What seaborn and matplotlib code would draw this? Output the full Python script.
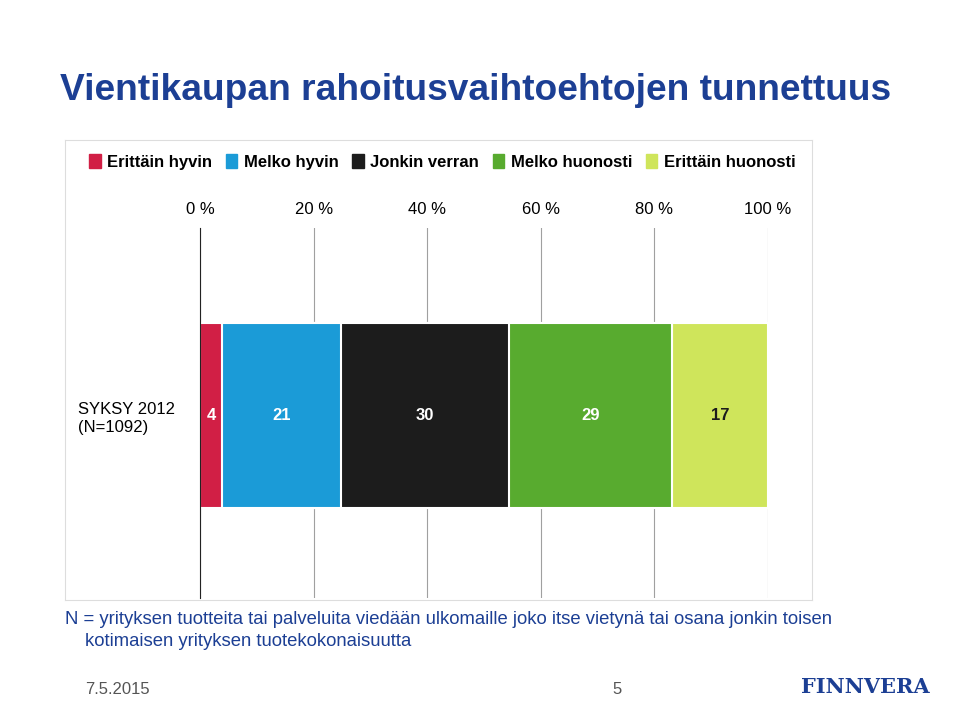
import matplotlib.pyplot as plt
import matplotlib.patches as mpatches
import seaborn as sns
import pandas as pd

categories = ["Erittäin hyvin", "Melko hyvin", "Jonkin verran", "Melko huonosti", "Erittäin huonosti"]
values = [4, 21, 30, 29, 17]
colors = ["#d11f45", "#1b9bd7", "#1c1c1c", "#58ab2f", "#cfe55b"]
row_label = "SYKSY 2012\n(N=1092)"
ticks = [0, 20, 40, 60, 80, 100]

plt.rcParams["font.family"] = "Liberation Sans"

# scale to 100 % (values sum to 101)
total = sum(values)
shares = [v / total * 100 for v in values]
cum = pd.Series(shares).cumsum().tolist()

fig = plt.figure(figsize=(9.6, 7.02), dpi=100)
fig.patch.set_facecolor("white")

# white chart panel
bg = fig.add_axes([65 / 960, 1 - 600 / 702, 747 / 960, 460 / 702], zorder=-1)
bg.set_xticks([])
bg.set_yticks([])
for sp in bg.spines.values():
    sp.set_color("#dddddd")

ax = fig.add_axes([200 / 960, 1 - 598 / 702, 568 / 960, 370 / 702])
ax.set_facecolor("none")

# draw stacked bar back to front
for i in reversed(range(len(categories))):
    df = pd.DataFrame({"row": [row_label], "value": [cum[i]]})
    sns.barplot(data=df, x="value", y="row", color=colors[i], width=1.0,
                orient="h", ax=ax, saturation=1, edgecolor="white", linewidth=1.5)

starts = [0] + cum[:-1]
for s, c, v in zip(starts, cum, values):
    ax.text((s + c) / 2, 0, str(v), ha="center", va="center", fontsize=12,
            fontweight="bold", color="white" if v != 17 else "#1c1c1c")

ax.set_xlim(0, 100)
ax.set_ylim(0.984, -1.016)
ax.set_xticks(ticks)
ax.set_xticklabels([f"{t} %" for t in ticks], fontsize=12)
ax.xaxis.tick_top()
ax.tick_params(axis="x", length=0, pad=8)
ax.set_yticks([0])
ax.set_yticklabels([row_label], ha="left", fontsize=12)
ax.tick_params(axis="y", length=0, pad=88)
ax.set_xlabel("")
ax.set_ylabel("")
ax.grid(axis="x", color="#a0a0a0", lw=0.8)
ax.set_axisbelow(True)
for sp in ["top", "right", "bottom"]:
    ax.spines[sp].set_visible(False)
ax.spines["left"].set_color("#222222")

handles = [mpatches.Patch(color=c, label=l) for c, l in zip(colors, categories)]
fig.legend(handles=handles, loc="center left", bbox_to_anchor=(74 / 960, 1 - 162 / 702),
           ncol=5, frameon=False, handlelength=0.7, handleheight=0.9,
           handletextpad=0.4, columnspacing=0.8, prop={"weight": "bold", "size": 12})

fig.text(60 / 960, 1 - 90 / 702, "Vientikaupan rahoitusvaihtoehtojen tunnettuus",
         fontsize=26.7, fontweight="bold", color="#1c3f94", va="center")
fig.text(65 / 960, 1 - 620 / 702,
         "N = yrityksen tuotteita tai palveluita viedään ulkomaille joko itse vietynä tai osana jonkin toisen",
         fontsize=13.3, color="#1c3f94", va="center")
fig.text(85 / 960, 1 - 641 / 702, "kotimaisen yrityksen tuotekokonaisuutta",
         fontsize=13.3, color="#1c3f94", va="center")
fig.text(85 / 960, 1 - 690 / 702, "7.5.2015", fontsize=12, color="#555555", va="center")
fig.text(617 / 960, 1 - 690 / 702, "5", fontsize=12, color="#555555", va="center", ha="center")
fig.text(930 / 960, 1 - 687 / 702, "FINNVERA", fontsize=15, fontweight="bold",
         family="DejaVu Serif", color="#1c3f94", va="center", ha="right")

fig.savefig("out.png", dpi=100)
